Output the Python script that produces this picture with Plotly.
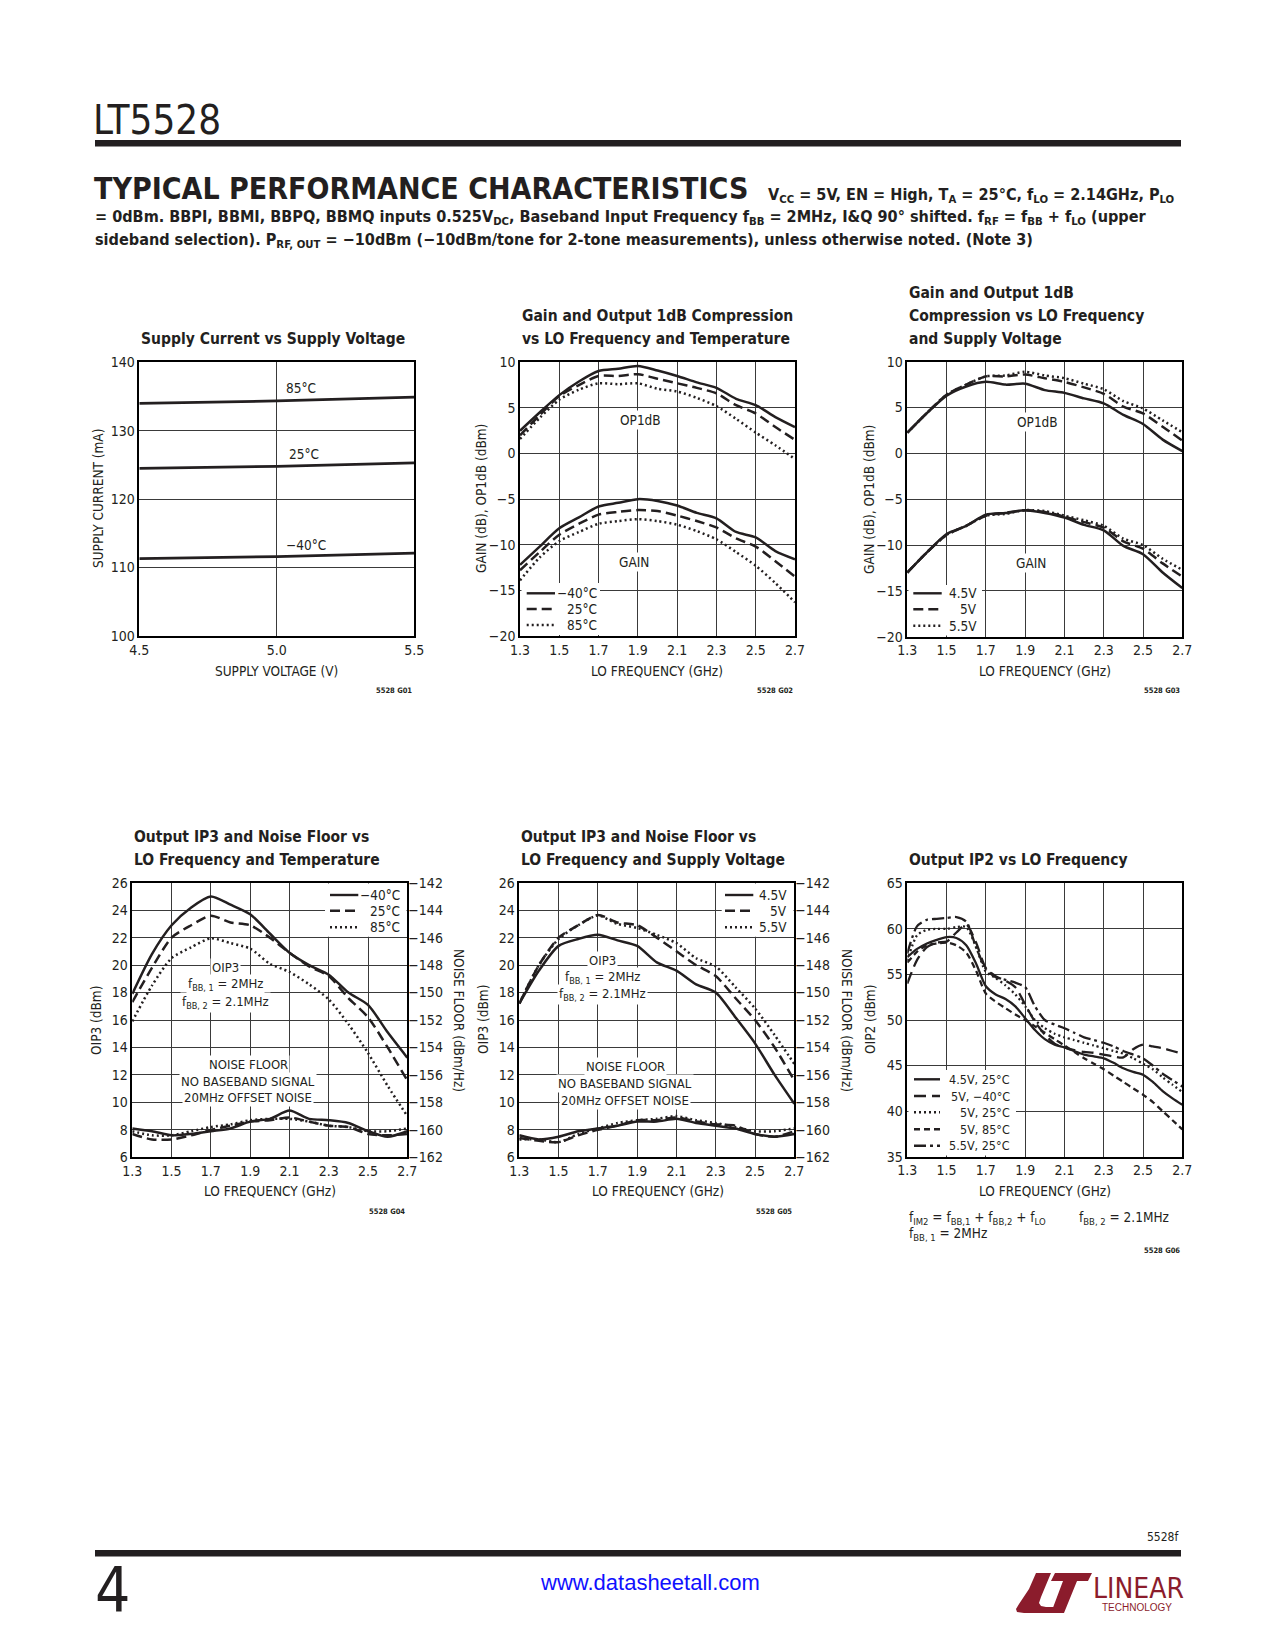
import plotly.graph_objects as go

W, H = 1275, 1650
FONT = "DejaVu Sans Condensed, Liberation Sans Narrow, sans-serif"
INK = "#231f20"
GRID = "#3a3a3a"
RED = "#8b1c2c"

# ---------------- data ----------------
supply_v = [4.5, 5.0, 5.5]
icc_85c = [134.0, 134.35, 134.9]
icc_25c = [124.5, 124.8, 125.3]
icc_m40c = [111.3, 111.6, 112.1]

lo_freq = [1.3, 1.4, 1.5, 1.6, 1.7, 1.8, 1.9, 2.0, 2.1, 2.2, 2.3, 2.4, 2.5, 2.6, 2.7]

# G02 : gain / OP1dB vs temperature
op1db_t_m40 = [2.5, 4.5, 6.4, 7.9, 9.05, 9.3, 9.6, 9.1, 8.5, 7.8, 7.2, 6.0, 5.3, 4.0, 2.9]
op1db_t_25 = [2.0, 4.2, 6.3, 7.5, 8.5, 8.5, 8.7, 8.2, 7.7, 7.2, 6.6, 5.3, 4.4, 2.9, 1.5]
op1db_t_85 = [1.6, 3.9, 5.9, 7.0, 7.7, 7.6, 7.7, 7.1, 6.8, 6.1, 5.2, 3.8, 2.3, 0.9, -0.6]
gain_t_m40 = [-12.2, -10.2, -8.2, -7.0, -5.8, -5.4, -5.0, -5.2, -5.7, -6.5, -7.1, -8.6, -9.2, -10.7, -11.6]
gain_t_25 = [-12.8, -10.8, -8.9, -7.7, -6.7, -6.4, -6.2, -6.3, -6.8, -7.4, -8.1, -9.3, -10.2, -11.8, -13.5]
gain_t_85 = [-13.9, -11.4, -9.6, -8.6, -7.7, -7.4, -7.2, -7.4, -7.8, -8.5, -9.4, -10.8, -12.3, -14.2, -16.3]

# G03 : gain / OP1dB vs supply voltage
op1db_v45 = [2.25, 4.4, 6.3, 7.3, 7.8, 7.5, 7.6, 6.9, 6.6, 6.0, 5.45, 4.2, 3.2, 1.5, 0.25]
op1db_v50 = [2.25, 4.4, 6.4, 7.5, 8.4, 8.4, 8.6, 8.2, 7.8, 7.2, 6.5, 5.1, 4.35, 2.9, 1.4]
op1db_v55 = [2.25, 4.4, 6.4, 7.5, 8.4, 8.5, 8.9, 8.5, 8.2, 7.6, 7.0, 5.7, 4.9, 3.6, 2.3]
gain_v45 = [-13.0, -10.8, -8.8, -7.9, -6.7, -6.5, -6.2, -6.5, -7.0, -7.8, -8.4, -10.1, -11.0, -13.0, -14.7]
gain_v50 = [-13.0, -10.8, -8.9, -7.9, -6.8, -6.5, -6.2, -6.4, -6.9, -7.5, -8.1, -9.6, -10.4, -12.0, -13.45]
gain_v55 = [-13.0, -10.8, -8.9, -7.9, -6.8, -6.6, -6.2, -6.3, -6.8, -7.3, -7.9, -9.3, -10.0, -11.5, -12.7]

# G04 : OIP3 (dBm) and noise floor (dBm/Hz) vs temperature
oip3_t_m40 = [17.9, 20.8, 22.9, 24.2, 25.0, 24.4, 23.7, 22.3, 20.9, 20.0, 19.3, 18.0, 17.1, 15.1, 13.25]
oip3_t_25 = [17.3, 19.8, 22.0, 22.9, 23.6, 23.1, 22.9, 22.0, 20.9, 19.9, 19.2, 17.6, 16.2, 14.0, 11.6]
oip3_t_85 = [15.9, 18.5, 20.5, 21.3, 21.95, 21.6, 21.2, 20.1, 19.5, 18.6, 17.5, 15.7, 13.6, 11.2, 9.0]
noise_t_m40 = [-159.9, -160.1, -160.4, -160.3, -160.1, -159.9, -159.4, -159.2, -158.6, -159.2, -159.3, -159.5, -160.1, -160.5, -160.1]
noise_t_25 = [-160.3, -160.7, -160.7, -160.4, -160.0, -159.7, -159.4, -159.3, -159.1, -159.4, -159.7, -159.8, -160.3, -160.4, -160.3]
noise_t_85 = [-160.1, -160.4, -160.4, -160.1, -159.8, -159.6, -159.3, -159.2, -159.2, -159.4, -159.7, -159.8, -160.1, -160.1, -159.9]

# G05 : OIP3 and noise floor vs supply voltage
oip3_v45 = [17.2, 19.6, 21.4, 21.9, 22.2, 21.8, 21.4, 20.2, 19.6, 18.6, 18.0, 16.2, 14.3, 12.0, 9.9]
oip3_v50 = [17.2, 20.0, 22.0, 22.9, 23.65, 23.1, 22.9, 22.0, 21.0, 20.0, 19.2, 17.6, 16.0, 14.0, 11.6]
oip3_v55 = [17.2, 20.0, 21.9, 22.9, 23.6, 23.0, 22.7, 22.2, 21.6, 20.5, 19.9, 18.4, 16.85, 14.9, 12.8]
noise_v45 = [-160.4, -160.7, -160.5, -160.1, -159.9, -159.7, -159.4, -159.4, -159.2, -159.5, -159.7, -159.9, -160.3, -160.5, -160.3]
noise_v50 = [-160.6, -160.8, -160.9, -160.4, -160.0, -159.7, -159.3, -159.3, -159.1, -159.4, -159.6, -159.7, -160.3, -160.5, -160.1]
noise_v55 = [-160.7, -160.7, -160.9, -160.3, -159.9, -159.5, -159.3, -159.2, -159.0, -159.3, -159.5, -159.8, -160.1, -160.1, -159.9]

# G06 : OIP2 vs LO frequency
lo_freq_fine = [1.30, 1.35, 1.40, 1.45, 1.50, 1.55, 1.60, 1.65, 1.70, 1.75, 1.80, 1.85, 1.90, 1.95,
                2.00, 2.05, 2.10, 2.15, 2.20, 2.25, 2.30, 2.35, 2.40, 2.45, 2.50, 2.55, 2.60, 2.65, 2.70]
oip2_45v_25c = [56.9, 57.8, 58.4, 58.8, 59.1, 59.0, 58.2, 56.2, 53.7, 52.8, 52.3, 51.5, 50.2, 48.9,
                47.9, 47.3, 47.0, 46.6, 46.2, 46.0, 45.8, 45.3, 44.7, 44.3, 44.0, 43.2, 42.2, 41.4, 40.7]
oip2_5v_m40c = [54.0, 56.6, 58.0, 58.5, 58.6, 59.6, 60.5, 58.5, 55.7, 54.8, 54.3, 53.6, 51.7, 49.8,
                48.4, 47.4, 47.0, 46.7, 46.5, 46.4, 46.2, 46.0, 45.9, 46.8, 47.3, 47.1, 46.9, 46.6, 46.3]
oip2_5v_25c = [56.5, 59.3, 59.9, 60.0, 60.0, 60.2, 60.2, 58.0, 55.3, 54.6, 53.8, 52.8, 51.5, 50.0,
               49.1, 48.5, 48.1, 47.8, 47.5, 47.2, 46.9, 46.6, 46.3, 45.8, 45.2, 44.6, 43.7, 42.9, 42.1]
oip2_5v_85c = [56.3, 57.5, 58.2, 58.4, 58.5, 58.2, 57.4, 55.4, 52.9, 52.0, 51.3, 50.6, 50.0, 49.3,
               48.6, 47.9, 47.2, 46.5, 45.8, 45.2, 44.6, 43.9, 43.2, 42.5, 41.8, 41.0, 40.0, 39.0, 38.0]
oip2_55v_25c = [57.3, 60.3, 61.0, 61.1, 61.2, 61.3, 60.8, 58.0, 55.6, 54.7, 54.4, 54.1, 53.6, 51.5,
                50.0, 49.5, 49.1, 48.6, 48.1, 47.8, 47.5, 47.1, 46.6, 46.2, 45.8, 45.0, 44.1, 43.4, 42.7]

temp_labels = ["\u221240\u00b0C", "25\u00b0C", "85\u00b0C"]
volt_labels = ["4.5V", "5V", "5.5V"]
ip2_labels = ["4.5V, 25\u00b0C", "5V, \u221240\u00b0C", "5V, 25\u00b0C", "5V, 85\u00b0C", "5.5V, 25\u00b0C"]

# ---------------- styles ----------------
SOLID = "solid"
DASH = "10px,5px"
DOT = "2px,3px"
LDASH = "12px,6px"
SDASH = "6px,4px"
DASHDOT = "12px,4px,3px,4px"

# plot rectangles in page pixels: left, right, top, bottom
P = {1: (139.3, 414.3, 362.3, 636.0),
     2: (520.0, 795.0, 362.3, 636.0),
     3: (907.3, 1182.3, 361.7, 636.7),
     4: (132.3, 407.3, 882.7, 1157.3),
     5: (519.3, 794.3, 882.7, 1157.3),
     6: (907.3, 1182.3, 883.3, 1156.7)}


def fx(x):
    return x / W


def fy(y):
    return 1 - y / H


fig = go.Figure()


def line(n, x, y, dash, yaxis=None, width=2.5):
    fig.add_trace(go.Scatter(
        x=x, y=y, mode="lines",
        line=dict(color=INK, width=width, dash=dash, shape="spline", smoothing=0.7),
        xaxis="x" if n == 1 else f"x{n}",
        yaxis=yaxis if yaxis else ("y" if n == 1 else f"y{n}"),
        showlegend=False, hoverinfo="skip"))


# chart 1
for arr in (icc_85c, icc_25c, icc_m40c):
    line(1, supply_v, arr, SOLID, width=2.7)
# chart 2
for arr, d in ((op1db_t_m40, SOLID), (op1db_t_25, DASH), (op1db_t_85, DOT),
               (gain_t_m40, SOLID), (gain_t_25, DASH), (gain_t_85, DOT)):
    line(2, lo_freq, arr, d)
# chart 3
for arr, d in ((op1db_v45, SOLID), (op1db_v50, DASH), (op1db_v55, DOT),
               (gain_v45, SOLID), (gain_v50, DASH), (gain_v55, DOT)):
    line(3, lo_freq, arr, d)
# chart 4
for arr, d in ((oip3_t_m40, SOLID), (oip3_t_25, DASH), (oip3_t_85, DOT)):
    line(4, lo_freq, arr, d)
for arr, d in ((noise_t_m40, SOLID), (noise_t_25, DASH), (noise_t_85, DOT)):
    line(4, lo_freq, arr, d, yaxis="y7")
# chart 5
for arr, d in ((oip3_v45, SOLID), (oip3_v50, DASH), (oip3_v55, DOT)):
    line(5, lo_freq, arr, d)
for arr, d in ((noise_v45, SOLID), (noise_v50, DASH), (noise_v55, DOT)):
    line(5, lo_freq, arr, d, yaxis="y8")
# chart 6
for arr, d in ((oip2_45v_25c, SOLID), (oip2_5v_m40c, LDASH), (oip2_5v_25c, DOT),
               (oip2_5v_85c, SDASH), (oip2_55v_25c, DASHDOT)):
    line(6, lo_freq_fine, arr, d, width=2.3)

# ---------------- axes ----------------
tickfont = dict(family=FONT, size=14, color=INK)
base = dict(showline=True, mirror=True, linecolor="black", linewidth=1.5,
            showgrid=True, gridcolor=GRID, gridwidth=1, zeroline=False,
            ticks="", tickfont=tickfont, fixedrange=True, automargin=False)

xspec = {1: ([4.5, 5.5], 4.5, 0.5), 2: ([1.3, 2.7], 1.3, 0.2), 3: ([1.3, 2.7], 1.3, 0.2),
         4: ([1.3, 2.7], 1.3, 0.2), 5: ([1.3, 2.7], 1.3, 0.2), 6: ([1.3, 2.7], 1.3, 0.2)}
yspec = {1: ([100, 140], 100, 10), 2: ([-20, 10], -20, 5), 3: ([-20, 10], -20, 5),
         4: ([6, 26], 6, 2), 5: ([6, 26], 6, 2), 6: ([35, 65], 35, 5)}

layout_axes = {}
for n, (l, r, t, b) in P.items():
    xk = "xaxis" if n == 1 else f"xaxis{n}"
    yk = "yaxis" if n == 1 else f"yaxis{n}"
    xr, x0, xd = xspec[n]
    yr, y0, yd = yspec[n]
    layout_axes[xk] = dict(base, domain=[fx(l), fx(r)], range=xr, tick0=x0, dtick=xd,
                           tickformat=".1f", anchor="y" if n == 1 else f"y{n}")
    layout_axes[yk] = dict(base, domain=[fy(b), fy(t)], range=yr, tick0=y0, dtick=yd,
                           anchor="x" if n == 1 else f"x{n}")
for k, n in (("yaxis7", 4), ("yaxis8", 5)):
    layout_axes[k] = dict(range=[-162, -142], tick0=-162, dtick=2, overlaying=f"y{n}",
                          anchor=f"x{n}", side="right", showgrid=False, showline=False,
                          zeroline=False, ticks="", tickfont=tickfont, fixedrange=True,
                          automargin=False)

# ---------------- annotations / shapes ----------------
ann = []
shapes = []


def txt(x, y, s, size=14, xa="center", ya="middle", angle=0, bg=None, color=INK, family=FONT):
    d = dict(xref="paper", yref="paper", x=fx(x), y=fy(y), text=s, showarrow=False,
             xanchor=xa, yanchor=ya, textangle=angle,
             font=dict(family=family, size=size, color=color), borderpad=1)
    if bg:
        d["bgcolor"] = bg
    ann.append(d)


def rect(x0, y0, x1, y1, color):
    shapes.append(dict(type="rect", xref="paper", yref="paper", x0=fx(x0), x1=fx(x1),
                       y0=fy(y1), y1=fy(y0), fillcolor=color, line=dict(width=0), layer="above"))


def legend(box, lx0, lx1, tx, rows, labels, dashes, size=13.5):
    rect(*box, "white")
    for yy, lab, d in zip(rows, labels, dashes):
        shapes.append(dict(type="line", xref="paper", yref="paper", x0=fx(lx0), x1=fx(lx1),
                           y0=fy(yy), y1=fy(yy), line=dict(color=INK, width=2.4, dash=d),
                           layer="above"))
        txt(tx, yy, lab, size=size, xa="right")


# header
txt(91, 120, "LT5528", size=40, xa="left", color=INK)
rect(95, 140, 1181, 146.5, INK)
txt(92, 189, "<b>TYPICAL PERFORMANCE CHARACTERISTICS</b>", size=30, xa="left")
HF = 16.1
txt(766, 196, "<b>V<sub>CC</sub> = 5V, EN = High, T<sub>A</sub> = 25\u00b0C, f<sub>LO</sub> = 2.14GHz, P<sub>LO</sub></b>",
    size=HF, xa="left")
txt(93, 218, "<b>= 0dBm. BBPI, BBMI, BBPQ, BBMQ inputs 0.525V<sub>DC</sub>, Baseband Input Frequency f<sub>BB</sub> = 2MHz, I&amp;Q 90\u00b0 shifted. f<sub>RF</sub> = f<sub>BB</sub> + f<sub>LO</sub> (upper</b>",
    size=HF, xa="left")
txt(93, 240, "<b>sideband selection). P<sub>RF, OUT</sub> = \u221210dBm (\u221210dBm/tone for 2-tone measurements), unless otherwise noted. (Note 3)</b>",
    size=HF, xa="left")

# chart titles
TS = 15.5
txt(139.3, 339, "<b>Supply Current vs Supply Voltage</b>", size=TS, xa="left")
txt(520, 316, "<b>Gain and Output 1dB Compression</b>", size=TS, xa="left")
txt(520, 339, "<b>vs LO Frequency and Temperature</b>", size=TS, xa="left")
txt(907.3, 293, "<b>Gain and Output 1dB</b>", size=TS, xa="left")
txt(907.3, 316, "<b>Compression vs LO Frequency</b>", size=TS, xa="left")
txt(907.3, 339, "<b>and Supply Voltage</b>", size=TS, xa="left")
txt(132.3, 837, "<b>Output IP3 and Noise Floor vs</b>", size=TS, xa="left")
txt(132.3, 860, "<b>LO Frequency and Temperature</b>", size=TS, xa="left")
txt(519.3, 837, "<b>Output IP3 and Noise Floor vs</b>", size=TS, xa="left")
txt(519.3, 860, "<b>LO Frequency and Supply Voltage</b>", size=TS, xa="left")
txt(907.3, 860, "<b>Output IP2 vs LO Frequency</b>", size=TS, xa="left")

# axis titles
AS = 13.5
txt(98, 499, "SUPPLY CURRENT (mA)", size=AS, angle=-90)
txt(276, 671, "SUPPLY VOLTAGE (V)", size=AS)
txt(481, 499, "GAIN (dB), OP1dB (dBm)", size=AS, angle=-90)
txt(657, 671, "LO FREQUENCY (GHz)", size=AS)
txt(869, 499, "GAIN (dB), OP1dB (dBm)", size=AS, angle=-90)
txt(1045, 671, "LO FREQUENCY (GHz)", size=AS)
txt(96, 1020, "OIP3 (dBm)", size=AS, angle=-90)
txt(459, 1020, "NOISE FLOOR (dBm/Hz)", size=AS, angle=90)
txt(270, 1191, "LO FREQUENCY (GHz)", size=AS)
txt(483, 1020, "OIP3 (dBm)", size=AS, angle=-90)
txt(847, 1020, "NOISE FLOOR (dBm/Hz)", size=AS, angle=90)
txt(658, 1191, "LO FREQUENCY (GHz)", size=AS)
txt(870, 1020, "OIP2 (dBm)", size=AS, angle=-90)
txt(1045, 1191, "LO FREQUENCY (GHz)", size=AS)

# in-chart labels
LS = 13.5
txt(301, 388, "85\u00b0C", size=LS)
txt(304, 454, "25\u00b0C", size=LS)
txt(306, 545, "\u221240\u00b0C", size=LS)
txt(641, 420, "OP1dB", size=LS, bg="white")
txt(634, 562, "GAIN", size=LS, bg="white")
txt(1037, 422, "OP1dB", size=LS, bg="white")
txt(1031, 563, "GAIN", size=LS, bg="white")

LS2 = 13
txt(225, 967, "OIP3", size=LS2, bg="white")
txt(225, 985, "f<sub>BB, 1</sub> = 2MHz", size=LS2, bg="white")
txt(225, 1002, "f<sub>BB, 2</sub> = 2.1MHz", size=LS2, bg="white")
txt(248, 1064, "NOISE FLOOR", size=LS2, bg="white")
txt(248, 1081, "NO BASEBAND SIGNAL", size=LS2, bg="white")
txt(248, 1097, "20MHz OFFSET NOISE", size=LS2, bg="white")

txt(602, 960, "OIP3", size=LS2, bg="white")
txt(602, 977, "f<sub>BB, 1</sub> = 2MHz", size=LS2, bg="white")
txt(602, 994, "f<sub>BB, 2</sub> = 2.1MHz", size=LS2, bg="white")
txt(625, 1066, "NOISE FLOOR", size=LS2, bg="white")
txt(625, 1083, "NO BASEBAND SIGNAL", size=LS2, bg="white")
txt(625, 1100, "20MHz OFFSET NOISE", size=LS2, bg="white")

# legends
legend((521.5, 583, 600, 635), 526.7, 555, 599, [593.3, 609, 625], temp_labels, [SOLID, DASH, DOT])
legend((908.5, 585, 982, 635.5), 913.3, 941.7, 979, [593.3, 609.3, 625.7], volt_labels, [SOLID, DASH, DOT])
legend((325, 883.5, 406.5, 936.7), 330, 358.3, 402, [895, 910.7, 927.3], temp_labels, [SOLID, DASH, DOT])
legend((721.7, 883.5, 793.5, 936.7), 725, 753.3, 789, [895, 910.7, 927.3], volt_labels, [SOLID, DASH, DOT])
legend((908.5, 1070, 1016, 1155.5), 914, 940, 1012, [1079.3, 1096, 1112.3, 1129.3, 1145.7],
       ip2_labels, [SOLID, LDASH, DOT, SDASH, DASHDOT], size=12.5)

# chart 6 notes
txt(907.3, 1218, "f<sub>IM2</sub> = f<sub>BB,1</sub> + f<sub>BB,2</sub> + f<sub>LO</sub>", size=13.5, xa="left")
txt(1076.5, 1218, "f<sub>BB, 2</sub> = 2.1MHz", size=13.5, xa="left")
txt(907.3, 1234, "f<sub>BB, 1</sub> = 2MHz", size=13.5, xa="left")

# figure tags
for x, y, s in ((414, 691, "5528 G01"), (795, 691, "5528 G02"), (1182, 691, "5528 G03"),
                (407, 1211, "5528 G04"), (794, 1211, "5528 G05"), (1182, 1250, "5528 G06")):
    txt(x, y, "<b>" + s + "</b>", size=7.5, xa="right")

# footer
txt(1181, 1537, "5528f", size=12, xa="right")
rect(95, 1550, 1181, 1556.5, INK)
txt(93, 1590, "4", size=62, xa="left")
txt(650, 1582, "www.datasheetall.com", size=22, color="#1010ff",
    family="Liberation Sans, Arial, sans-serif")


def pathstr(pts):
    return "M " + " L ".join(f"{fx(a):.5f},{fy(b):.5f}" for a, b in pts) + " Z"


swoosh = [(1036, 1573), (1051, 1573), (1041, 1597), (1039, 1603), (1041, 1606), (1046, 1607),
          (1057, 1607), (1054, 1613), (1024, 1613), (1017, 1612), (1016, 1609), (1019, 1604),
          (1029, 1589)]
tee = [(1055, 1573), (1092, 1573), (1088, 1581), (1077, 1581), (1064, 1613), (1051, 1613),
       (1063, 1581), (1051, 1581)]
for pts in (swoosh, tee):
    shapes.append(dict(type="path", xref="paper", yref="paper", path=pathstr(pts),
                       fillcolor=RED, line=dict(width=0), layer="above"))
txt(1138, 1588, "LINEAR", size=28, color=RED)
txt(1137, 1607, "TECHNOLOGY", size=10, color=RED, family="Liberation Sans, Arial, sans-serif")

fig.update_layout(width=W, height=H,
                  margin=dict(l=0, r=0, t=0, b=0, pad=0, autoexpand=False),
                  paper_bgcolor="white", plot_bgcolor="white",
                  annotations=ann, shapes=shapes, showlegend=False, **layout_axes)

fig.write_html("out.html", config={"responsive": False, "displayModeBar": False},
               post_script="document.body.style.margin='0';document.body.style.overflow='hidden';")
